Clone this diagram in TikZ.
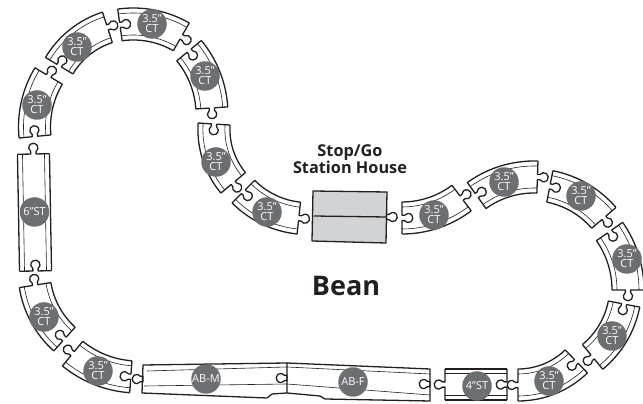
\documentclass[tikz,border=0pt]{standalone}
\usepackage{fontspec}
\setmainfont{Open Sans}
\definecolor{badgegray}{HTML}{6D6E71}
\definecolor{housegray}{HTML}{D1D3D4}
\definecolor{inkdark}{HTML}{231F20}
\tikzset{
  trackline/.style={draw=inkdark, line width=1.3pt, line join=round},
  railline/.style={draw=inkdark, line width=0.6pt},
  badge/.style={circle, fill=badgegray, text=white, minimum size=29.5pt, inner sep=0pt,
    align=center, font=\fontsize{11}{10}\selectfont},
  heading/.style={text=inkdark, align=center, font=\bfseries\fontsize{16.3}{17}\selectfont}
}
% one end of a piece: x across the track, y along it
\newcommand{\trackend}[1]{
  \draw[trackline] (#1,0) -- (2.64,0) -- (2.64,2.43)
    arc[start angle=-55, end angle=235, radius=4.6] -- (-2.64,0) -- (-#1,0);
}
% name, arc centre x, y, radius, socket angle, peg angle, badge x, y
\newcommand{\curvepiece}[8]{
  \pgfmathsetmacro{\cmid}{(#5+#6)/2}
  \pgfmathsetmacro{\csign}{sign(#6-#5)}
  \pgfmathsetmacro{\chalf}{abs(#6-#5)/2}
  \begin{scope}[shift={(#2,#3)}, rotate=\cmid, yscale=\csign]
    \draw[trackline] (-\chalf:#4+16) arc[start angle=-\chalf, end angle=\chalf, radius=#4+16];
    \draw[trackline] (-\chalf:#4-16) arc[start angle=-\chalf, end angle=\chalf, radius=#4-16];
    \draw[railline] (-\chalf:#4+11) arc[start angle=-\chalf, end angle=\chalf, radius=#4+11];
    \draw[railline] (-\chalf:#4-11) arc[start angle=-\chalf, end angle=\chalf, radius=#4-11];
    \begin{scope}[rotate=\chalf, xshift=#4]
      \trackend{16}
    \end{scope}
    \begin{scope}[rotate=-\chalf, xshift=#4]
      \trackend{16}
    \end{scope}
  \end{scope}
  \node[badge] (#1) at (#7,#8) {3.5"\\CT};
}
\begin{document}
\begin{tikzpicture}[x=1pt, y=1pt]
  \useasboundingbox (0,0) rectangle (643,404);

  % Draw the curved pieces, clockwise from the left
  \curvepiece{ctA}{133.5}{277}{99}{185.5}{149}{37}{299}
  \curvepiece{ctB}{134.6}{293}{88}{149}{108}{77}{357}
  \curvepiece{ctC}{133.3}{284}{96}{98}{60}{152}{380}
  \curvepiece{ctD}{112}{289.6}{100}{39.6}{3.7}{205}{328}
  \curvepiece{ctE}{297.9}{274.7}{84}{176.4}{219.6}{216}{242}
  \curvepiece{ctF}{308.4}{277.4}{92}{225}{264}{267}{192}
  \curvepiece{ctG}{402}{285}{99}{270}{307}{434}{189}
  \curvepiece{ctH}{534}{129}{98}{125.8}{88}{504}{222}
  \curvepiece{ctI}{531.7}{124.3}{95}{79}{40.6}{581}{208}
  \curvepiece{ctJ}{526}{114}{102}{35}{0}{627}{145}
  \curvepiece{ctK}{534.7}{117.3}{91}{-11}{-50.5}{612}{68}
  \curvepiece{ctL}{518}{103}{84}{-46}{-90}{549}{23}
  \curvepiece{ctM}{138}{130}{103}{266}{230.6}{98}{33}
  \curvepiece{ctN}{126}{133.3}{92}{228}{189}{44}{87}

  % Draw the 6" straight
  \begin{scope}[shift={(34.5,191.5)}, rotate=1]
    \draw[trackline] (-16,58.5) -- (-16,-58.5);
    \draw[trackline] (16,58.5) -- (16,-58.5);
    \draw[railline] (-11,58.5) -- (-11,-58.5);
    \draw[railline] (11,58.5) -- (11,-58.5);
    \begin{scope}[yshift=58.5]
      \trackend{16}
    \end{scope}
    \begin{scope}[yshift=-58.5]
      \trackend{16}
    \end{scope}
  \end{scope}
  \node[badge] (stSix) at (34.5,192) {6"ST};

  % Draw the 4" straight
  \begin{scope}[shift={(476,19.5)}, rotate=90]
    \draw[trackline] (-15.5,31) -- (-15.5,-31);
    \draw[trackline] (15.5,31) -- (15.5,-31);
    \draw[railline] (-11,31) -- (-11,-31);
    \draw[railline] (11,31) -- (11,-31);
    \begin{scope}[yshift=31]
      \trackend{15.5}
    \end{scope}
    \begin{scope}[yshift=-31]
      \trackend{15.5}
    \end{scope}
  \end{scope}
  \node[badge] (stFour) at (477,18) {4"ST};

  % Draw the station house
  \draw[trackline, fill=housegray] (313,213) -- (387,212) -- (386,161) -- (312,163) -- cycle;
  \draw[trackline] (313.5,188) -- (386.5,187);
  \begin{scope}[shift={(386.5,187)}, rotate=-90]
    \trackend{0}
  \end{scope}
  \node[heading] (house) at (350,245) {Stop/Go\\Station House};

  % Draw the ab pieces
  \draw[trackline] (287,41) -- (143,39) -- (142,11) -- (267,6) -- (272,10) -- (287,11) -- cycle;
  \draw[trackline] (287,41) -- (430,35) -- (430,3) -- (325,5) -- (320,8) -- (287,11);
  \draw[railline] (147,33) -- (287,37) -- (430,30);
  \draw[railline] (144,18) -- (287,20) -- (430,9);
  \begin{scope}[shift={(143,25)}, rotate=90]
    \trackend{0}
  \end{scope}
  \begin{scope}[shift={(287,26)}, rotate=90]
    \trackend{0}
  \end{scope}
  \begin{scope}[shift={(430,20)}, rotate=90]
    \trackend{0}
  \end{scope}
  \node[badge] (abM) at (206,25) {AB-M};
  \node[badge] (abF) at (353,22) {AB-F};

  % Draw the name
  \node[heading, font=\bfseries\fontsize{27}{27}\selectfont] (bean) at (346,118) {Bean};
\end{tikzpicture}
\end{document}
